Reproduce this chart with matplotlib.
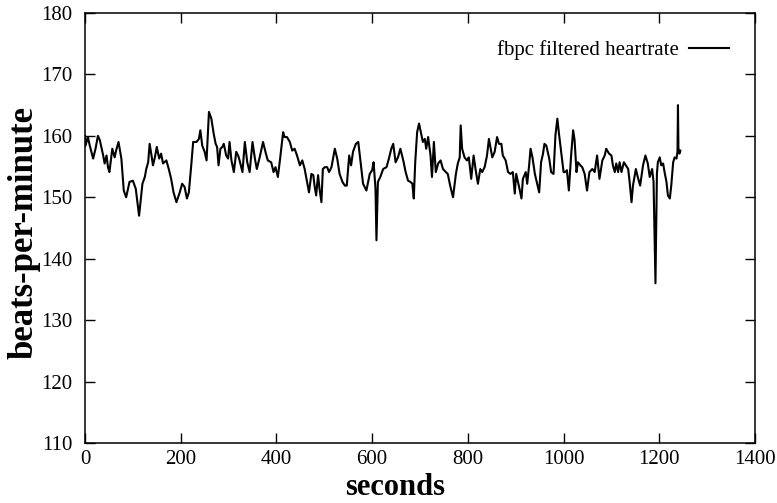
import numpy as np
import matplotlib.pyplot as plt

# heart rate trace: (seconds, beats per minute)
trace_0_250 = [(0, 160.0), (1, 158.4), (6, 159.8), (10, 158.4), (17, 156.3), (22, 157.9),
               (27, 160.0), (31, 159.3), (38, 156.8), (41, 155.5), (45, 156.8), (48, 154.9),
               (51, 154.1), (57, 157.9), (62, 156.5), (65, 157.6), (70, 159.0), (76, 156.3),
               (81, 151.1), (86, 150.0), (93, 152.5), (100, 152.7), (106, 151.4), (113, 147.0),
               (120, 152.2), (125, 153.3), (128, 154.6), (132, 155.7), (135, 158.7), (139, 156.8),
               (142, 155.2), (146, 156.5), (150, 158.2), (155, 156.3), (159, 157.1), (163, 155.5),
               (170, 156.0), (175, 154.6), (180, 153.0), (185, 150.8), (191, 149.2), (198, 150.8),
               (203, 152.2), (208, 151.7), (213, 149.8), (217, 150.8), (222, 155.2), (226, 159.0),
               (233, 159.0), (238, 159.5), (241, 160.9), (245, 158.4), (250, 157.4)]
trace_250_500 = [(254, 156.0), (259, 163.9), (264, 162.8), (269, 160.3), (273, 158.7), (276, 158.2),
                 (279, 155.2), (283, 157.9), (287, 158.2), (290, 158.7), (295, 156.8), (299, 156.3),
                 (302, 159.0), (306, 156.0), (311, 154.1), (316, 157.4), (320, 156.8), (323, 156.0),
                 (329, 154.1), (334, 159.0), (339, 155.7), (344, 154.1), (350, 159.0), (355, 156.3),
                 (359, 154.6), (365, 156.5), (372, 159.0), (378, 157.1), (382, 156.0), (389, 155.7),
                 (394, 154.1), (398, 154.9), (403, 153.3), (408, 156.5), (414, 160.6), (417, 159.8),
                 (422, 159.8), (428, 159.0), (433, 157.6), (438, 157.9), (443, 156.8), (449, 155.2),
                 (454, 156.0), (459, 154.6), (464, 152.5), (468, 150.8), (473, 153.8), (477, 153.6),
                 (480, 151.7), (483, 150.3), (487, 153.6), (490, 151.4), (494, 149.2), (497, 154.6)]
trace_500_750 = [(501, 154.9), (506, 154.9), (510, 154.1), (515, 154.9), (522, 157.9), (527, 156.3),
                 (532, 153.8), (538, 152.5), (543, 151.9), (547, 151.9), (552, 156.8), (556, 155.2),
                 (560, 157.4), (566, 158.7), (571, 159.0), (575, 156.3), (581, 152.2), (588, 151.1),
                 (595, 153.8), (600, 154.4), (603, 155.7), (607, 151.4), (609, 143.0), (612, 152.5),
                 (617, 153.3), (623, 154.6), (630, 154.9), (635, 156.3), (640, 157.9), (644, 158.7),
                 (649, 155.7), (654, 156.5), (659, 157.9), (665, 156.0), (670, 154.1), (675, 152.7),
                 (680, 152.5), (684, 152.2), (687, 149.8), (690, 155.7), (694, 160.6), (698, 162.0),
                 (703, 160.1), (706, 159.0), (710, 159.5), (713, 157.9), (717, 159.8), (722, 156.8),
                 (725, 153.3), (729, 159.0), (733, 154.1), (738, 155.5), (743, 156.0), (748, 154.6)]
trace_750_1000 = [(754, 154.1), (758, 153.8), (763, 151.9), (769, 150.0), (775, 153.8), (779, 155.5),
                  (783, 156.5), (785, 161.7), (788, 157.9), (793, 156.5), (798, 156.0), (802, 156.5),
                  (807, 153.0), (812, 156.8), (816, 154.6), (821, 152.2), (826, 154.6), (830, 154.1),
                  (835, 154.9), (840, 156.8), (844, 159.5), (847, 158.2), (851, 156.5), (856, 157.4),
                  (861, 159.8), (865, 158.7), (870, 158.7), (873, 156.8), (879, 156.0), (884, 154.1),
                  (889, 153.8), (894, 154.1), (898, 150.6), (901, 153.8), (907, 151.7), (912, 149.8),
                  (915, 153.0), (921, 154.1), (924, 152.2), (928, 155.2), (931, 157.9), (935, 156.5),
                  (940, 153.8), (944, 152.5), (949, 150.8), (953, 155.7), (957, 157.1), (960, 158.7),
                  (964, 158.4), (970, 156.3), (974, 154.1), (979, 153.8), (983, 160.1), (987, 162.8),
                  (990, 160.6), (995, 157.4), (1000, 154.1)]
trace_1000_end = [(1003, 154.1), (1007, 154.4), (1011, 151.1), (1016, 157.1), (1020, 160.9),
                  (1023, 159.3), (1027, 154.1), (1030, 155.7), (1035, 155.2), (1039, 154.9),
                  (1044, 153.8), (1049, 151.1), (1054, 154.1), (1060, 154.6), (1065, 154.1),
                  (1070, 156.8), (1075, 153.0), (1081, 156.0), (1086, 156.8), (1089, 157.9),
                  (1095, 157.1), (1100, 156.8), (1103, 155.2), (1107, 154.1), (1110, 155.5),
                  (1114, 154.1), (1117, 155.7), (1121, 154.1), (1126, 155.7), (1130, 155.2),
                  (1135, 154.6), (1138, 152.5), (1142, 149.2), (1145, 151.9), (1151, 154.6),
                  (1155, 153.3), (1160, 151.9), (1166, 155.2), (1171, 156.8), (1176, 155.5),
                  (1180, 153.3), (1185, 154.6), (1188, 152.5), (1192, 136.0), (1195, 153.8),
                  (1197, 155.7), (1201, 156.5), (1204, 155.2), (1208, 155.5), (1211, 154.1),
                  (1215, 152.5), (1218, 150.3), (1222, 149.8), (1225, 151.9), (1229, 155.7),
                  (1232, 156.5), (1236, 156.3), (1238, 157.4), (1239, 165.0), (1240, 157.9),
                  (1242, 157.1), (1244, 157.6)]

data = np.array(trace_0_250 + trace_250_500 + trace_500_750 + trace_750_1000 + trace_1000_end)
seconds = data[:, 0]
bpm = data[:, 1]

plt.rcParams['font.family'] = ['Liberation Serif', 'DejaVu Serif']

fig = plt.figure(figsize=(7.77, 5.03), dpi=100)
ax = fig.add_axes([0.1094, 0.1193, 0.8623, 0.8549])
ax.plot(seconds, bpm, c="black", lw=1.5, label="fbpc filtered heartrate")

ax.set_xlim(0, 1400)
ax.set_ylim(110, 180)
ax.set_xticks(np.arange(0, 1401, 200))
ax.set_yticks(np.arange(110, 181, 10))
ax.tick_params(direction="in", length=7, width=1, top=True, right=True,
               labelsize=15, pad=9)
ax.tick_params(axis="x", pad=5)
for sp in ax.spines.values():
    sp.set_linewidth(1.1)

ax.set_xlabel("seconds", fontsize=22, fontweight="bold")
ax.set_ylabel("beats-per-minute", fontsize=25, fontweight="bold")
ax.xaxis.set_label_coords(0.463, -0.07)
ax.yaxis.set_label_coords(-0.066, 0.49)

ax.legend(frameon=False, loc="upper right", bbox_to_anchor=(0.9896, 0.98),
          fontsize=15, markerfirst=False, handlelength=1.92, handletextpad=0.5)

fig.savefig("out.png", dpi=100)
